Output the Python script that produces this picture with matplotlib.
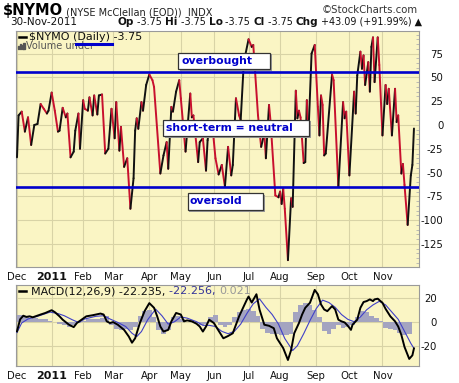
import numpy as np
import matplotlib
matplotlib.use("Agg")
import matplotlib.pyplot as plt
from matplotlib.collections import LineCollection
from matplotlib.patches import Rectangle

# ---------------- data ----------------
month_pos = [0, 22, 42, 61, 84, 104, 125, 147, 167, 190, 211, 232]
month_lbl = ["Dec", "2011", "Feb", "Mar", "Apr", "May", "Jun", "Jul", "Aug", "Sep", "Oct", "Nov"]

nymo_day = [0, 1, 3, 5, 7, 9, 11, 13, 15, 17, 19, 20, 22, 24, 26, 27, 29, 31, 32, 34, 36, 37, 39, 40,
            42, 43, 45, 46, 48, 49, 51, 52, 54, 56, 58, 60, 62, 63, 65, 66, 68, 70, 72, 74, 75, 76,
            77, 79, 80, 82, 84, 86, 87, 91, 93, 95, 96, 98, 99, 101, 103, 104, 107, 110, 111, 112,
            115, 116, 118, 120, 121, 122, 124, 126, 128, 130, 132, 134, 136, 137, 139, 141, 142,
            144, 147, 149, 150, 153, 154, 155, 157, 158, 160, 161, 164, 166, 167, 168, 169, 170,
            172, 174, 175, 177, 178, 179, 180, 182, 183, 184, 185, 187, 189, 191, 192, 193, 194,
            195, 196, 200, 201, 204, 207, 208, 209, 211, 214, 215, 216, 218, 219, 220, 221, 223,
            224, 225, 226, 227, 229, 230, 232, 234, 235, 236, 238, 240, 241, 242, 244, 245, 246,
            248, 250, 251, 252]
nymo_val = [-34, 10, 14, -7, 8, -21, 0, 1, 22, 17, 12, 15, 34, 15, -7, -6, 18, 8, 12, -34, -28, -6, 12, -25,
            26, 17, 15, 29, 10, 31, 11, 31, 32, -30, -25, 17, -14, 24, -27, -2, -44, -35, -88, -56, -6, 7,
            -4, 24, 15, 42, 53, 47, 40, -51, -32, -18, -46, 19, 14, 35, 47, 28, -28, 33, 8, 10,
            -39, -18, -14, -48, -16, -4, 0, -35, -52, -42, -65, -23, -53, -42, 28, 10, 5,
            66, 90, 82, 84, 10, -7, -23, -9, -35, 21, 3, -74, -76, -70, -83, -67, -88,
            -142, -77, -86, 36, 7, 15, 8, -40, -39, 26, -11, 75, 84, 19, -11, 31, 21,
            -32, -30, 53, 47, -65, 24, 7, 14, -53, 35, 12, 52, 77, 59, 73, 42, 66,
            35, 82, 92, 45, 92, 63, -11, 42, 22, 38, -11, 38, 3, 10, -51, -41, -63,
            -105, -53, -42, -3.75]

overbought_level = 56
oversold_level = -65

macd_day = [0, 2, 4, 6, 8, 10, 15, 18, 22, 24, 27, 29, 33, 36, 38, 41, 44, 48, 53, 55, 57, 59, 61, 64,
            68, 71, 73, 75, 78, 81, 84, 87, 89, 91, 93, 96, 98, 101, 104, 106, 108, 111, 114, 116,
            118, 120, 122, 125, 127, 129, 131, 134, 137, 139, 141, 144, 146, 147, 149, 152, 154,
            157, 160, 163, 165, 169, 172, 174, 176, 179, 181, 183, 186, 188, 189, 191, 193, 195,
            197, 200, 202, 204, 206, 208, 210, 212, 213, 216, 218, 220, 222, 224, 226, 227, 229,
            232, 234, 237, 240, 242, 244, 246, 249, 251, 252]
macd_val = [-8, 2, 5, 4, 4.5, 3.7, 6, 7.3, 9.6, 8, 4.5, 1.7, -2.5, -4.5, -1.1, 1.7, 4.5, 5.4, 6.8, 6, 0.3, -1.1, -0.3, -2.5,
            -6.8, -12.4, -17.5, -13.8, -1.1, 8.8, 15.5, 11.6, 4.5, -4, -8.2, -6.8, 0.3, 7.3, 6, 0.3, 1.1, 0.3, -1.7, -4,
            -8.2, -4, 1.7, -1.1, -5.4, -9.6, -13.8, -11.9, -9.6, -2.5, 4.5, 13, 18.6, 21, 16, 22.9, 10,
            -2.5, -3.4, -5.4, -13.8, -22, -31.9, -23.7, -9.6, -1.1, 6, 11.6, 15.8, 22.9, 26.5, 22.9, 14.4, 10.2,
            8.8, 13, 10.2, 1.7, 0.3, -0.6, -3.4, -6.8, -2.5, 1.7, 11.6, 16.4, 17.2, 18.6, 17.2, 18.6, 19.2,
            15.8, 10.7, 4.5, 0.3, -4, -11, -21, -31, -28, -22.235]

signal_day = [0, 3, 7, 13, 21, 26, 30, 35, 39, 43, 50, 55, 59, 64, 69, 73, 76, 79, 83, 88, 92, 96, 100,
              104, 108, 114, 118, 122, 126, 130, 134, 138, 142, 146, 150, 154, 158, 162, 166, 170,
              175, 178, 182, 186, 190, 194, 198, 202, 206, 210, 214, 218, 222, 226, 230, 234, 238,
              242, 246, 250, 252]
signal_val = [-9, -1, 2.3, 4.5, 8, 6.8, 5, 1.7, -0.6, 2.3, 4.5, 5, 2.3, -0.6, -4, -9.6, -12.4, -8.2, 1.7, 10.5, 5, -2, 0,
              4, 3, 0, -3, -3, -4, -8, -10, -8, -2, 7, 15, 19, 12, 6, -2, -14,
              -24, -20, -10, 1, 11, 18, 16, 12, 6, 2, 0, 4, 10, 14, 17, 14, 8,
              2, -8, -18, -22.256]

hist_day = list(range(0, 253, 3))
hist_val = [6, 6, 4, 3, 3, 2, 2, 1, 0, -2, -3, -4, -3, -1, 1, 2, 2, 2, 3, 5, -3, -6, -7, -6, -7,
            -4, 5, 9, 10, 4, -7, -10, -7, 4, 5, 2, 0, 1, -1, -3, -2, 4, 6, -3, -4, -3, 4, 8,
            10, 11, 9, 5, -6, -9, -10, -10, -11, -11, -10, 8, 14, 16, 14, 10, 4, -8, -10, -6,
            -3, -5, -4, -3, 4, 9, 8, 5, 3, 1, -5, -6, -7, -9, -11, -10, 0.021]

main_yticks = [75, 50, 25, 0, -25, -50, -75, -100, -125]
macd_yticks = [20, 0, -20]

# ---------------- styling ----------------
W, H = 460, 383
PANEL = "#FAF5C4"
GRID = "#D8D3A6"
BLUE = "#0000CC"
fig = plt.figure(figsize=(W / 100, H / 100), dpi=100)
fig.patch.set_facecolor("white")


def rect(l, t, r, b):
    return [l / W, 1 - b / H, (r - l) / W, (b - t) / H]


ax = fig.add_axes(rect(16, 31, 419, 267))
ax2 = fig.add_axes(rect(16, 285, 419, 366))

for a in (ax, ax2):
    a.set_facecolor(PANEL)
    a.set_xlim(-0.63, 255.2)
    for s in a.spines.values():
        s.set_color("#9A9A9A")
        s.set_linewidth(0.8)
    a.set_xticks(month_pos)
    a.set_xticklabels(month_lbl)
    a.grid(True, color=GRID, lw=0.8)
    a.set_axisbelow(True)
    a.tick_params(axis="x", length=0, pad=3.5, labelsize=7.3, colors="#111111")
    a.yaxis.tick_right()
    for lab in a.get_xticklabels():
        if lab.get_text() == "2011":
            lab.set_fontweight("bold")
            lab.set_fontsize(8)

# main panel
ax.set_ylim(-149.2, 98.7)
ax.set_yticks(main_yticks)
ax.set_yticklabels([str(v) for v in main_yticks])
ax.set_yticks(np.arange(-145, 96, 5), minor=True)
ax.tick_params(axis="y", which="major", length=0, pad=17.5, labelsize=7.3, colors="#111111")
ax.tick_params(axis="y", which="minor", length=2, direction="in", color="#B0B0B0")
for lab in ax.get_yticklabels():
    lab.set_horizontalalignment("right")

x = np.array(nymo_day, dtype=float)
y = np.array(nymo_val, dtype=float)
segs = np.stack([np.column_stack([x[:-1], y[:-1]]), np.column_stack([x[1:], y[1:]])], axis=1)
cols = ["#111111" if y[i + 1] >= y[i] else "#C8102E" for i in range(len(y) - 1)]
ax.add_collection(LineCollection(segs, colors=cols, linewidths=1.4, capstyle="round", joinstyle="round", zorder=3))

ax.axhline(overbought_level, color=BLUE, lw=1.9, zorder=4)
ax.axhline(oversold_level, color=BLUE, lw=1.9, zorder=4)


def fx(px):
    return (px - 16) / 403


def fy(py):
    return (267 - py) / 236


def label_box(l, t, r, b, text, tx):
    ax.add_patch(Rectangle((fx(l) + 1.5 / 403, fy(b) - 1.5 / 236), fx(r) - fx(l), fy(t) - fy(b),
                           transform=ax.transAxes, facecolor="#9A9A9A", edgecolor="none", zorder=5))
    ax.add_patch(Rectangle((fx(l), fy(b)), fx(r) - fx(l), fy(t) - fy(b), transform=ax.transAxes,
                           facecolor="white", edgecolor="#333333", lw=0.9, zorder=6))
    ax.text(fx(tx), fy((t + b) / 2), text, transform=ax.transAxes, color=BLUE, fontsize=7.8,
            fontweight="bold", ha="left", va="center", zorder=7)


label_box(178, 53, 270, 69, "overbought", 181)
label_box(163, 120, 309, 136, "short-term = neutral", 166)
label_box(188, 193, 263, 210, "oversold", 190)

# legend inside main panel
ax.plot([fx(19), fx(26)], [fy(37), fy(37)], transform=ax.transAxes, color="black", lw=1.8, zorder=6)
ax.text(fx(29), fy(37), "$NYMO (Daily) -3.75", transform=ax.transAxes, fontsize=8, ha="left",
        va="center", color="#111111", zorder=6)
ax.plot([fx(76), fx(112)], [fy(44), fy(44)], transform=ax.transAxes, color=BLUE, lw=2.2, zorder=6)
for i, hgt in enumerate([3, 5, 4, 6]):
    ax.add_patch(Rectangle((fx(18 + i * 1.8), fy(49)), 1.2 / 403, hgt / 236, transform=ax.transAxes,
                           color="#555555", zorder=6))
ax.text(fx(26), fy(46), "Volume under", transform=ax.transAxes, fontsize=7, ha="left", va="center",
        color="#555555", zorder=5)

# MACD panel
ax2.set_ylim(-36.9, 30.6)
ax2.set_yticks(macd_yticks)
ax2.set_yticklabels([str(v) for v in macd_yticks])
ax2.tick_params(axis="y", length=0, pad=13, labelsize=7.3, colors="#111111")
for lab in ax2.get_yticklabels():
    lab.set_horizontalalignment("right")
ax2.bar(hist_day, hist_val, width=3.0, color="#A4A4C0", edgecolor="none", zorder=2)
ax2.plot(signal_day, signal_val, color="#4040C8", lw=0.8, zorder=3)
ax2.plot(macd_day, macd_val, color="black", lw=1.4, zorder=4)

ax2.plot([fx(19), fx(26)], [(366 - 291) / 81] * 2, transform=ax2.transAxes, color="black", lw=1.8, zorder=6)
m1 = ax2.text(fx(31), (366 - 291) / 81, "MACD(12,26,9) -22.235, ", transform=ax2.transAxes, fontsize=8,
              ha="left", va="center", color="#111111", zorder=6)
m2 = ax2.annotate("-22.256, ", xy=(1, 0.5), xycoords=m1, va="center", ha="left", fontsize=8,
                  color="#333399", zorder=6, annotation_clip=False)
ax2.annotate("0.021", xy=(1, 0.5), xycoords=m2, va="center", ha="left", fontsize=8,
             color="#999999", zorder=6, annotation_clip=False)

# header texts
t1 = ax.annotate("$NYMO", xy=(3 / W, 1 - 10 / H), xycoords="figure fraction", fontsize=10.5,
                 fontweight="bold", ha="left", va="center", annotation_clip=False)
ax.annotate(" (NYSE McClellan (EOD))  INDX", xy=(1, 0.0), xycoords=t1, va="bottom", ha="left",
            fontsize=7, color="#222222", annotation_clip=False)
fig.text(418 / W, 1 - 10 / H, "\u00a9StockCharts.com", fontsize=7.3, ha="right", va="center", color="#333333")
fig.text(10 / W, 1 - 22 / H, "30-Nov-2011", fontsize=7.5, ha="left", va="center", color="#111111")

parts = [("Op", True), (" -3.75 ", False), ("Hi", True), (" -3.75 ", False), ("Lo", True),
         (" -3.75 ", False), ("Cl", True), (" -3.75 ", False), ("Chg", True), (" +43.09 (+91.99%) \u25b2", False)]
prev = None
for txt, bold in parts:
    kw = dict(fontsize=7.6 if bold else 6.9, fontweight="bold" if bold else "normal", color="#111111",
              annotation_clip=False, ha="left")
    if prev is None:
        prev = ax.annotate(txt, xy=(118 / W, 1 - 22 / H), xycoords="figure fraction", va="center", **kw)
    else:
        prev = ax.annotate(txt, xy=(1, 0), xycoords=prev, va="bottom", **kw)

fig.savefig("out.png", dpi=100)
